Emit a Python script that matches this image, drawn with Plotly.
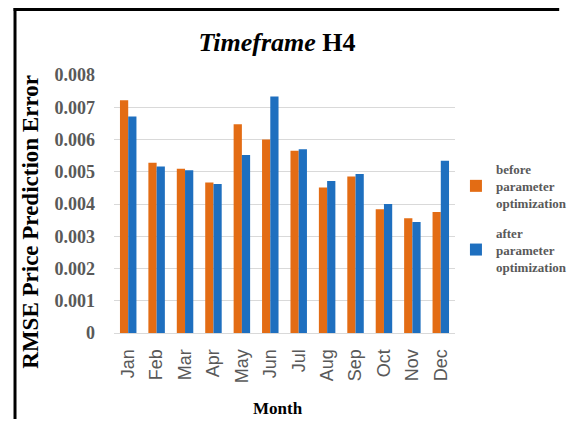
import plotly.graph_objects as go

months = ["Jan", "Feb", "Mar", "Apr", "May", "Jun", "Jul", "Aug", "Sep", "Oct", "Nov", "Dec"]
before = [0.00722, 0.00528, 0.00509, 0.00467, 0.00647, 0.00600, 0.00565, 0.00451, 0.00485, 0.00384, 0.00356, 0.00375]
after = [0.00671, 0.00516, 0.00505, 0.00462, 0.00552, 0.00733, 0.00570, 0.00471, 0.00493, 0.00400, 0.00344, 0.00534]
yticks = [0, 0.001, 0.002, 0.003, 0.004, 0.005, 0.006, 0.007, 0.008]
ytick_labels = ["0", "0.001", "0.002", "0.003", "0.004", "0.005", "0.006", "0.007", "0.008"]

serif = "Liberation Serif"

fig = go.Figure()
fig.add_trace(go.Bar(x=months, y=before, name="before<br>parameter<br>optimization", legendgroup="a",
                     marker=dict(color="#E36C14", line=dict(width=0))))
fig.add_trace(go.Bar(x=months, y=after, name="after<br>parameter<br>optimization", legendgroup="b",
                     marker=dict(color="#1E6FBF", line=dict(width=0))))

# figure is drawn 8px inside the page (body margin), so coordinates are shifted
W, H = 576, 411
L, R, T, B = 106, 110, 67, 86
pw, ph = W - L - R, H - T - B

def px_x(x):
    return (x - L) / pw

def px_y(y):
    return (H - B - y) / ph

fig.update_layout(
    width=W, height=H,
    margin=dict(l=L, r=R, t=T, b=B),
    paper_bgcolor="white", plot_bgcolor="white",
    barmode="group", bargap=0.42, bargroupgap=0,
    title=dict(text="<b><i>Timeframe</i> H4</b>", x=269 / W, xref="container", xanchor="center",
               y=1 - 34 / H, yref="container", yanchor="middle",
               font=dict(family=serif, size=26, color="black")),
    xaxis=dict(tickangle=-90, tickfont=dict(family="Liberation Sans", size=18, color="#595959"),
               showline=True, linecolor="#D9D9D9", linewidth=1, ticks="", ticklabelstandoff=8),
    yaxis=dict(range=[0, 0.008], tickvals=yticks, ticktext=ytick_labels,
               tickfont=dict(family=serif, size=18, color="#595959", weight="bold"),
               showgrid=True, gridcolor="#D9D9D9", gridwidth=1, zeroline=False,
               ticklabelstandoff=18),
    legend=dict(x=px_x(467), y=px_y(146), xanchor="left", yanchor="top",
                font=dict(family=serif, size=13, color="#595959", weight="bold"),
                tracegroupgap=10, itemwidth=30, bgcolor="rgba(0,0,0,0)"),
    showlegend=True,
    annotations=[
        dict(text="<b>Month</b>", xref="paper", yref="paper", x=px_x(279), y=px_y(400),
             xanchor="center", yanchor="middle", showarrow=False,
             font=dict(family=serif, size=17, color="black")),
        dict(text="<b>RMSE Price Prediction Error</b>", xref="paper", yref="paper", x=px_x(17), y=px_y(214),
             xanchor="center", yanchor="middle", showarrow=False, textangle=-90,
             font=dict(family=serif, size=23, color="black")),
    ],
    shapes=[
        dict(type="line", xref="paper", yref="paper", x0=px_x(1.5), x1=px_x(1.5), y0=px_y(0), y1=px_y(H),
             line=dict(color="black", width=3)),
        dict(type="line", xref="paper", yref="paper", x0=px_x(0), x1=px_x(W), y0=px_y(1.5), y1=px_y(1.5),
             line=dict(color="black", width=3)),
    ],
)

fig.write_html("out.html")
